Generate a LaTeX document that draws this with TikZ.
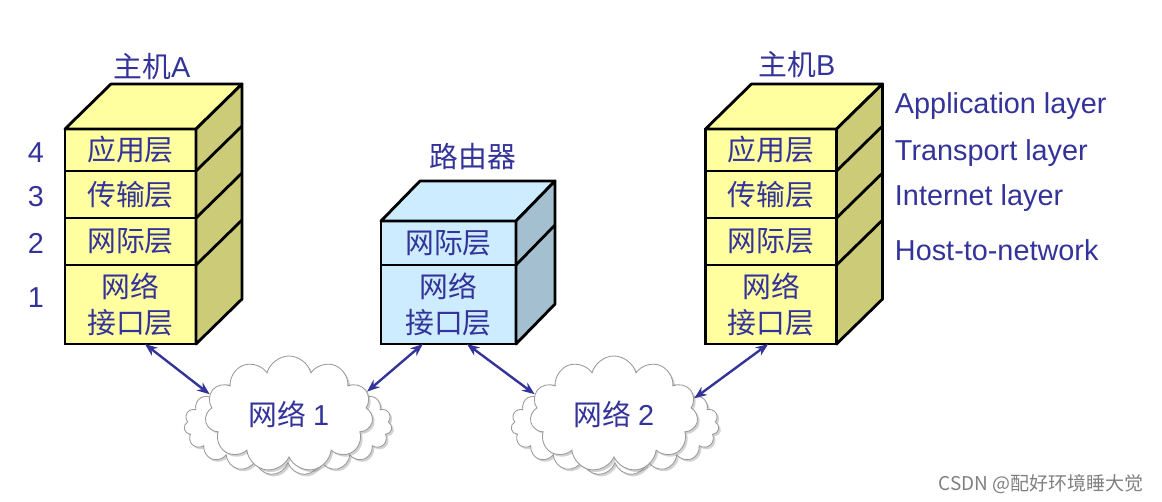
\documentclass[tikz,border=0pt]{standalone}
\usepackage{fontspec}
\setmainfont{Liberation Sans}
\newfontfamily\cjk{Noto Sans CJK SC}
\usepackage{tikz}
\usetikzlibrary{arrows.meta,positioning,shapes.symbols,shadows}
\definecolor{ink}{RGB}{51,51,153}
\definecolor{hostfront}{RGB}{255,255,160}
\definecolor{hostside}{RGB}{204,204,120}
\definecolor{routfront}{RGB}{206,236,255}
\definecolor{routside}{RGB}{164,192,208}

\begin{document}
\begin{tikzpicture}[x=0.025cm,y=-0.025cm,>={Stealth[length=9pt,width=7pt]},
    every node/.style={text=ink,font=\cjk\fontsize{20.5}{26}\selectfont},
    txt/.style={font=\fontsize{20.5}{26}\selectfont},
    layer/.style={draw=black,line width=2pt,inner sep=0pt,outer sep=0pt,align=center},
    hostlayer/.style={layer,fill=hostfront,minimum width=3.275cm,minimum height={#1*0.025cm}},
    routlayer/.style={layer,fill=routfront,minimum width=3.375cm,minimum height={#1*0.025cm}},
    face/.style={draw=black,line width=2pt,line join=round},
    fluff/.style={cloud,draw=gray!80,fill=white,line width=0.6pt,
                  drop shadow={shadow xshift=1.5pt,shadow yshift=-1.5pt,opacity=.35}},
    link/.style={<->,draw=ink,line width=1.7pt}]

  \useasboundingbox (0,0) rectangle (1162,501);

  % hosts
  \foreach \h/\x in {A/130.5,B/771} {
    \node[hostlayer=42] (app\h) at (\x,150) {应用层};
    \node[hostlayer=47,below=0pt of app\h] (trans\h) {传输层};
    \node[hostlayer=47,below=0pt of trans\h] (inet\h) {网际层};
    \node[hostlayer=79,below=0pt of inet\h] (net\h) {网络\\接口层};
    \filldraw[face,fill=hostfront] (app\h.north west) -- ++(46,-45) -- ++(131,0) -- (app\h.north east) -- cycle;
    \filldraw[face,fill=hostside] (app\h.north east) -- ++(46,-45) -- ++(0,215) -- (net\h.south east) -- cycle;
    \draw[face] (trans\h.north east) -- ++(46,-45)
                (inet\h.north east) -- ++(46,-45)
                (net\h.north east) -- ++(46,-45);
  }

  % router
  \node[routlayer=44] (inetR) at (448.5,243) {网际层};
  \node[routlayer=79,below=0pt of inetR] (netR) {网络\\接口层};
  \filldraw[face,fill=routfront] (inetR.north west) -- ++(39,-40) -- ++(135,0) -- (inetR.north east) -- cycle;
  \filldraw[face,fill=routside] (inetR.north east) -- ++(39,-40) -- ++(0,123) -- (netR.south east) -- cycle;
  \draw[face] (netR.north east) -- ++(39,-40);

  \node[txt] (hostA) at (152,67) {{\cjk 主机}A};
  \node[txt] (hostB) at (797,65) {{\cjk 主机}B};
  \node (router) at (473,157) {路由器};

  \foreach \n/\y in {4/153,3/197,2/243,1/298}
    \node[txt] (num\n) at (36,\y) {\n};

  \node[txt,anchor=west] (appL) at (890,106) {Application layer};
  \node[txt,anchor=west] (transL) at (890,153) {Transport layer};
  \node[txt,anchor=west] (inetL) at (890,198) {Internet layer};
  \node[txt,anchor=west] (netL) at (890,250) {Host-to-network};

  % networks
  \node[fluff,cloud puffs=19,aspect=2.4,minimum width=5.2cm,minimum height=2.5cm] (back1) at (288,425) {};
  \node[fluff,cloud puffs=11,aspect=1.5,minimum width=4.2cm,minimum height=2.9cm] (net1) at (289,414) {网络 {\rmfamily 1}};
  \node[fluff,cloud puffs=19,aspect=2.4,minimum width=5.2cm,minimum height=2.5cm] (back2) at (615,425) {};
  \node[fluff,cloud puffs=11,aspect=1.5,minimum width=4.2cm,minimum height=2.9cm] (net2) at (614,414) {网络 {\rmfamily 2}};

  \draw[link] (netA.-70) -- (net1.166);
  \draw[link] (net1.16) -- (netR.-123);
  \draw[link] (netR.-65) -- (net2.166);
  \draw[link] (net2.11) -- (netB.-94);

  \node[text=gray,font=\cjk\fontsize{13.5}{16}\selectfont] (mark) at (1041,484) {CSDN @配好环境睡大觉};
\end{tikzpicture}
\end{document}
